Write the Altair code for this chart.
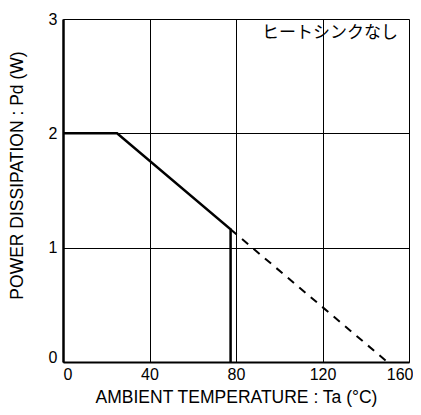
import altair as alt
import pandas as pd

# Solid derating curve (no heat sink)
solid_x = [0, 25, 77.5, 77.5]
solid_y = [2.0, 2.0, 1.16, 0.0]
# Dashed extension
dash_x = [77.5, 150]
dash_y = [1.16, 0.0]

x_ticks = [0, 40, 80, 120, 160]
y_ticks = [0, 1, 2, 3]

label_text = ["ヒートシンクなし"]
label_x = [123.5]
label_y = [2.88]

solid_df = pd.DataFrame({"x": solid_x, "y": solid_y, "o": list(range(len(solid_x)))})
dash_df = pd.DataFrame({"x": dash_x, "y": dash_y, "o": list(range(len(dash_x)))})
label_df = pd.DataFrame({"x": label_x, "y": label_y, "t": label_text})

FONT = "Liberation Sans"

xscale = alt.Scale(domain=[0, 160], nice=False, zero=False)
yscale = alt.Scale(domain=[0, 3], nice=False, zero=False)

xaxis = alt.Axis(
    title="AMBIENT TEMPERATURE : Ta (°C)",
    values=x_ticks,
    format="d",
    grid=True,
    gridColor="black",
    gridWidth=1,
    gridOpacity=1,
    tickSize=0,
    domainColor="black",
    domainWidth=2,
    labelFont=FONT,
    labelFontSize=16,
    labelColor="black",
    labelPadding=4,
    labelAlign=alt.expr("datum.value == 0 ? 'left' : (datum.value == 160 ? 'right' : 'center')"),
    labelOffset=alt.expr("datum.value == 160 ? 4 : 0"),
    titleFont=FONT,
    titleFontSize=17.5,
    titleFontWeight="normal",
    titleColor="black",
    titleY=40,
    titleBaseline="alphabetic",
)
yaxis = alt.Axis(
    title="POWER DISSIPATION : Pd (W)",
    values=y_ticks,
    format="d",
    grid=True,
    gridColor="black",
    gridWidth=1,
    gridOpacity=1,
    tickSize=0,
    domainColor="black",
    domainWidth=2.5,
    labelFont=FONT,
    labelFontSize=16,
    labelColor="black",
    labelPadding=6,
    labelBaseline=alt.expr("datum.value == 0 ? 'alphabetic' : 'middle'"),
    titleFont=FONT,
    titleFontSize=17.5,
    titleFontWeight="normal",
    titleColor="black",
    titleX=-46,
    titleY=156,
    titleBaseline="middle",
)

solid = alt.Chart(solid_df).mark_line(color="black", strokeWidth=2.5).encode(
    x=alt.X("x:Q", scale=xscale, axis=xaxis),
    y=alt.Y("y:Q", scale=yscale, axis=yaxis),
    order="o:Q",
)
dashed = alt.Chart(dash_df).mark_line(color="black", strokeWidth=2, strokeDash=[8, 7]).encode(
    x=alt.X("x:Q", scale=xscale),
    y=alt.Y("y:Q", scale=yscale),
    order="o:Q",
)
text = alt.Chart(label_df).mark_text(
    font="Noto Sans CJK JP", fontSize=17, color="black", align="center", baseline="middle"
).encode(
    x=alt.X("x:Q", scale=xscale),
    y=alt.Y("y:Q", scale=yscale),
    text="t:N",
)

chart = (
    alt.layer(solid, dashed, text)
    .properties(
        width=346,
        height=343,
        autosize=alt.AutoSizeParams(type="none"),
        padding={"left": 55, "top": 11, "right": 4, "bottom": 45},
    )
    .configure_view(stroke="black", strokeWidth=1.5)
    .configure(background="white")
)

chart.save("out.html", embed_options={"renderer": "svg", "actions": False})
